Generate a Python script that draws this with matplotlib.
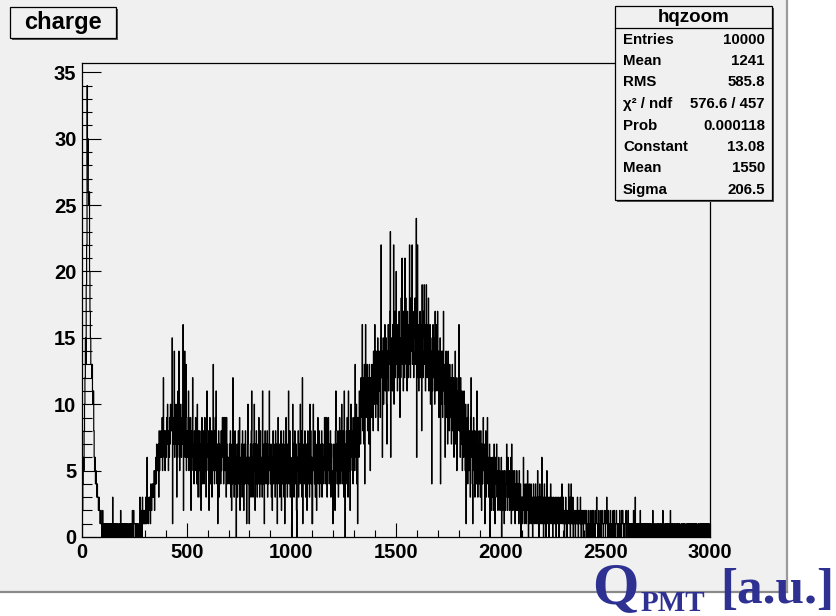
import numpy as np
import matplotlib
matplotlib.use("Agg")
import matplotlib.pyplot as plt
from matplotlib.patches import Rectangle
from matplotlib.lines import Line2D
from matplotlib.ticker import MultipleLocator

# hqzoom: 1500 bins of width 2 over 0..3000, one base-36 digit per bin
x_lo, x_hi, n_bins = 0, 3000, 1500

counts_0000_0500 = (
    "024658acfd" "jmysuqpqkh" "fddcdbab86" "5645434332" "3221221012"
    "1010110101" "1011011010" "1013010110" "1101010011" "0121010110"
    "1101011010" "0110110101" "2102111010" "1101100130" "1120312121"
    "2132163212" "3231422343" "4352546475" "6573857686" "7958c76857"
    "8697a75869" "7a898f1879" "e697a8396b" "7e85a7968a" "7g298e69d5"
)
counts_0500_1000 = (
    "8679b58697" "2869c57485" "69584a7386" "5837269475" "84695738b6"
    "7582694758" "376d584695" "b647168375" "6485796948" "9596397465"
    "6475836274" "c573684605" "7368459264" "5738562746" "846157a461"
    "64738b5637" "5a62748536" "7495368465" "3b64715864" "7583647b56"
    "4736258475" "6385741695" "4736582647" "5836174956" "375b468365"
)
counts_1000_1500 = (
    "506a473685" "4720658367" "4a6583c165" "7485367258" "6473a58461"
    "16a5748365" "2759468375" "6483756479" "5946937596" "4758367451"
    "574628b574" "6837594685" "a47583b607" "584963b758" "27a6958479"
    "75d86a4917" "96b8a7c9bg" "8ca7d4bg9c" "ad8cb7da5c" "b9dac8ebag"
    "c9ebdaf8ce" "bd9fmce6df" "aecgbdfa7e" "cgbedhn6fc" "ebgdmafhce"
)
counts_1500_2000 = (
    "kdfbgechd9" "fcieldgbhe" "clfidgbhec" "gdmfciegmd" "hecgfidho6"
    "cmegbfdhce" "g8jechfjdg" "bfjecgdibf" "dgaec4fbgd" "cfahdbgceh"
    "be9dcf4dae" "c9ehbda6ce" "9db7eac8db" "9c7bd8ac6b" "9e7ca5b8c9"
    "g8a6c97b5a" "86b795a186" "94a758639c" "6841795837" "584b637584"
    "6385274695" "7416835794" "6357046253" "6425731645" "7352463524"
)
counts_2000_2500 = (
    "3604253415" "3245732643" "5243617425" "3425134253" "2431523403"
    "2313623142" "3142530241" "3241320342" "1324123152" "3024132162"
    "1302413201" "5213203124" "1231023121" "3201321230" "2132124123"
    "1202131201" "2142130241" "2130212102" "1213102121" "3102112012"
    "1211021101" "2110121012" "1021101213" "1101210112" "0112101121"
)
counts_2500_3000 = (
    "1213101210" "1120110121" "0211012110" "1101211012" "1210110112"
    "1011210110" "1101011201" "0310110101" "1102101011" "0110101101"
    "1010010110" "0102101001" "1001010110" "0101001201" "1001010010"
    "1001020101" "0100101001" "1010010100" "0101001010" "1000101010"
    "0101001010" "1001010100" "0101001010" "1010100101" "0110101110"
)

stats_rows = [
    ("Entries", "10000"),
    ("Mean", "1241"),
    ("RMS", "585.8"),
    ("\u03c7\u00b2 / ndf", "576.6 / 457"),
    ("Prob", "0.000118"),
    ("Constant", "13.08"),
    ("Mean", "1550"),
    ("Sigma", "206.5"),
]

all_digits = (counts_0000_0500 + counts_0500_1000 + counts_1000_1500
              + counts_1500_2000 + counts_2000_2500 + counts_2500_3000)
counts = np.array([int(c, 36) for c in all_digits], dtype=float)
assert len(counts) == n_bins
edges = np.linspace(x_lo, x_hi, n_bins + 1)

W, H = 837, 616
def fx(x):
    return x / W
def fy(y):
    return 1 - y / H

SANS = "Liberation Sans"
CANVAS = "#f0f0f0"

fig = plt.figure(figsize=(W / 100, H / 100), dpi=100)
fig.patch.set_facecolor("white")

# grey canvas with its shadow edge
fig.patches.append(Rectangle((0, fy(591)), fx(786), 591 / H, transform=fig.transFigure,
                             facecolor=CANVAS, edgecolor="none", zorder=-5))
fig.lines.append(Line2D([fx(787), fx(787)], [fy(0), fy(592)], transform=fig.transFigure,
                        color="#9a9a9a", lw=1.6, zorder=-4))
fig.lines.append(Line2D([fx(0), fx(787)], [fy(592), fy(592)], transform=fig.transFigure,
                        color="#8a8a8a", lw=1.6, zorder=-4))

ax = fig.add_axes([fx(82), fy(537), fx(710) - fx(82), (537 - 63) / H])
ax.set_facecolor(CANVAS)
ax.stairs(counts, edges, baseline=0, color="black", lw=0.85)

ax.set_xlim(x_lo, x_hi)
ax.set_ylim(0, counts.max() * 1.05)

ax.xaxis.set_major_locator(MultipleLocator(500))
ax.xaxis.set_minor_locator(MultipleLocator(100))
ax.yaxis.set_major_locator(MultipleLocator(5))
ax.yaxis.set_minor_locator(MultipleLocator(1))
ax.tick_params(which="both", direction="in", top=False, right=False, width=0.8)
ax.xaxis.set_tick_params(which="major", length=10, pad=4)
ax.xaxis.set_tick_params(which="minor", length=5)
ax.yaxis.set_tick_params(which="major", length=14, pad=4)
ax.yaxis.set_tick_params(which="minor", length=7)
for lab in ax.get_xticklabels() + ax.get_yticklabels():
    lab.set_fontfamily(SANS)
    lab.set_fontweight("bold")
    lab.set_fontsize(14.5)
for sp in ax.spines.values():
    sp.set_linewidth(0.9)
    sp.set_color("black")

# title pave
fig.patches.append(Rectangle((fx(12), fy(40)), fx(106), 31 / H, transform=fig.transFigure,
                             facecolor="#555555", edgecolor="none", zorder=4))
fig.patches.append(Rectangle((fx(10), fy(38)), fx(106), 31 / H, transform=fig.transFigure,
                             facecolor=CANVAS, edgecolor="black", lw=0.9, zorder=5))
fig.text(fx(63), fy(22), "charge", family=SANS, weight="bold", fontsize=17,
         ha="center", va="center", zorder=6)

# stats box
bx0, by0, bx1, by1 = 615, 6, 772, 200
fig.patches.append(Rectangle((fx(bx0 + 2), fy(by1 + 2)), fx(bx1 - bx0), (by1 - by0) / H,
                             transform=fig.transFigure, facecolor="#555555",
                             edgecolor="none", zorder=4))
fig.patches.append(Rectangle((fx(bx0), fy(by1)), fx(bx1 - bx0), (by1 - by0) / H,
                             transform=fig.transFigure, facecolor=CANVAS,
                             edgecolor="black", lw=0.9, zorder=5))
fig.lines.append(Line2D([fx(bx0), fx(bx1)], [fy(28), fy(28)], transform=fig.transFigure,
                        color="black", lw=0.9, zorder=6))
fig.text(fx((bx0 + bx1) / 2), fy(17), "hqzoom", family=SANS, weight="bold",
         fontsize=13.5, ha="center", va="center", zorder=6)
for i, (name, val) in enumerate(stats_rows):
    yc = 39.5 + i * 21.5
    fig.text(fx(623), fy(yc), name, family=SANS, weight="bold", fontsize=10.8,
             ha="left", va="center", zorder=6)
    fig.text(fx(765), fy(yc), val, family=SANS, weight="bold", fontsize=10.8,
             ha="right", va="center", zorder=6)

# axis caption
BLUE = "#2e3192"
SERIF = "Liberation Serif"
fig.text(fx(592), fy(603), "Q", family=SERIF, weight="bold", fontsize=43,
         color=BLUE, ha="left", va="baseline", zorder=7)
fig.text(fx(641), fy(611), "PMT", family=SERIF, weight="bold", fontsize=21,
         color=BLUE, ha="left", va="baseline", zorder=7)
fig.text(fx(834), fy(603), "[a.u.]", family=SERIF, weight="bold", fontsize=37,
         color=BLUE, ha="right", va="baseline", zorder=7)

fig.savefig("out.png", dpi=100)
